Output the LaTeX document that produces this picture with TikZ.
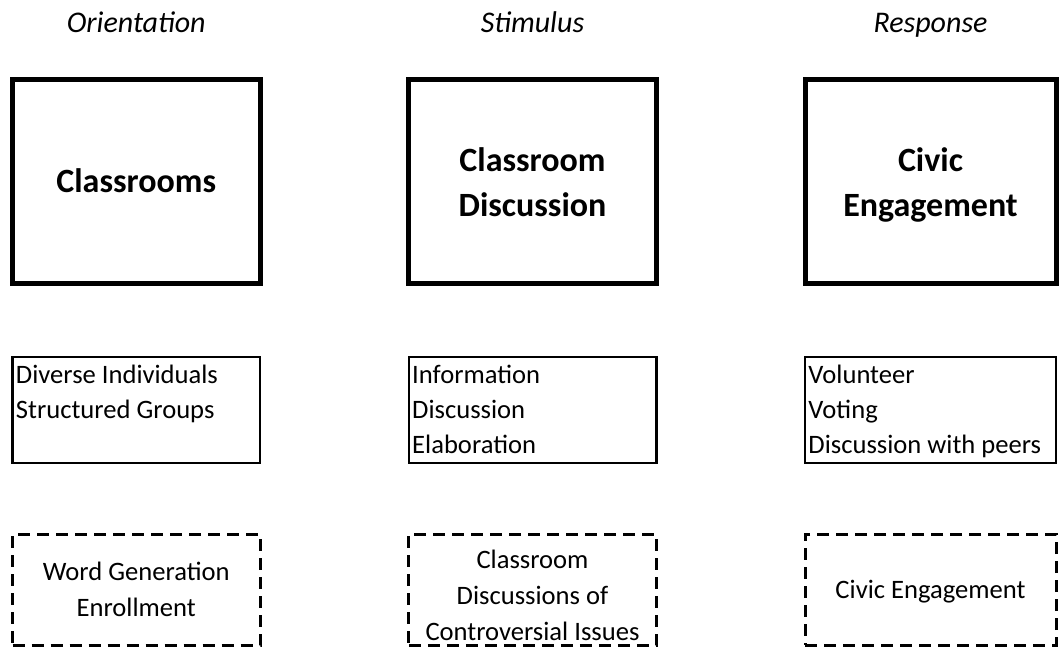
\documentclass[tikz,border=0pt]{standalone}
\usepackage{fontspec}
\setmainfont{Carlito}
\usepackage{tikz}
\usetikzlibrary{calc}

\tikzset{
  header/.style={font=\fontsize{30}{35}\selectfont\itshape, anchor=base, inner sep=0pt},
  mainbox/.style={draw, line width=5pt, minimum width=247.5pt, minimum height=203pt, inner sep=0pt},
  maintext/.style={font=\fontsize{34}{45}\selectfont\bfseries, align=center, anchor=base, inner sep=0pt},
  listbox/.style={draw, line width=2.5pt, minimum width=247.5pt, minimum height=106pt, inner sep=0pt},
  dashbox/.style={draw, line width=3pt, dash pattern=on 12pt off 7pt,
    minimum width=247.5pt, minimum height=111pt, inner sep=0pt},
  listtext/.style={font=\fontsize{26.6}{35}\selectfont, align=left, anchor=base west, inner sep=0pt},
  boxtext/.style={font=\fontsize{26.6}{36}\selectfont, align=center, anchor=base, inner sep=0pt},
}

\begin{document}
\begin{tikzpicture}[x=1pt,y=-1pt]
\useasboundingbox (0,0) rectangle (1060,647);

% column headings
\node[header] (hOrient) at (136.25,33) {Orientation};
\node[header] (hStim) at (532.5,33) {Stimulus};
\node[header] (hResp) at (930.5,33) {Response};

% top row
\node[mainbox] (classrooms) at (136.25,181.5) {};
\node[mainbox] (discussion) at (532.5,181.5) {};
\node[mainbox, minimum width=251pt] (engagement) at (930.5,181.5) {};
% base = last line
\node[maintext] (classroomsText) at ($(classrooms.center)+(0,11)$) {Classrooms};
\node[maintext] (discussionText) at ($(discussion.center)+(0,35)$) {Classroom\\Discussion};
\node[maintext] (engagementText) at ($(engagement.center)+(0,35)$) {Civic\\Engagement};

% middle row
\node[listbox] (orientList) at (136.25,410) {};
\node[listbox] (stimList) at (532.5,410) {};
\node[listbox, minimum width=251pt] (respList) at (930.5,410) {};
\node[listtext] (orientItems) at ($(orientList.north west)+(4.5,63)$) {Diverse Individuals\\Structured Groups};
\node[listtext] (stimItems) at ($(stimList.north west)+(4.5,98)$) {Information\\Discussion\\Elaboration};
\node[listtext] (respItems) at ($(respList.north west)+(4.5,98)$) {Volunteer\\Voting\\Discussion with peers};

% bottom row
\node[dashbox] (orientMeasure) at (136.25,589.5) {};
\node[dashbox] (stimMeasure) at (532.5,589.5) {};
\node[dashbox, minimum width=251pt] (respMeasure) at (930.5,589.5) {};
\node[boxtext] (orientText) at ($(orientMeasure.north)+(0,84)$) {Word Generation\\Enrollment};
\node[boxtext] (stimText) at ($(stimMeasure.north)+(0,108)$) {Classroom\\Discussions of\\Controversial Issues};
\node[boxtext] (respText) at ($(respMeasure.north)+(0,66)$) {Civic Engagement};
\end{tikzpicture}
\end{document}
